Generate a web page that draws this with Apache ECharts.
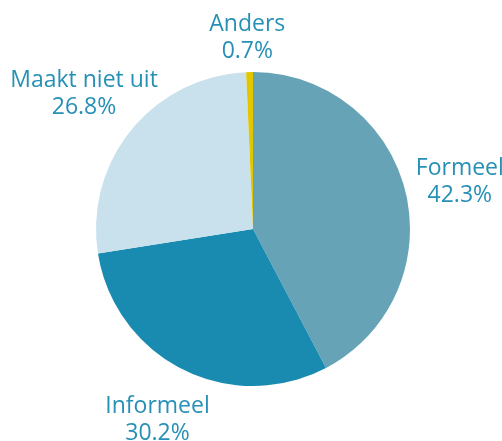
<!DOCTYPE html>
<html><head><meta charset="utf-8">
<script src="https://cdn.jsdelivr.net/npm/echarts@6/dist/echarts.min.js"></script>
<style>html,body{margin:0;padding:0;background:#fff}#c{width:502px;height:441px}</style>
</head><body><div id="c"></div>
<script>
const categories = ['Formeel', 'Informeel', 'Maakt niet uit', 'Anders'];
const values = [42.3, 30.2, 26.8, 0.7];
const colors = ['#67a3b6', '#1a8bb0', '#c9e1ec', '#e2c700'];
const labelOffsets = [[0, 4], [0, 1], [-4, 0], [-1, 22]];

const chart = echarts.init(document.getElementById('c'), null, {renderer: 'canvas'});
const mainData = categories.map((n, i) => ({name: n, value: values[i], itemStyle: {color: colors[i]}}));
const labelData = categories.map((n, i) => ({name: n, value: values[i], label: {offset: labelOffsets[i]}}));
chart.setOption({
  animation: false,
  series: [
    {
      type: 'pie', center: [253, 229], radius: [0, 157], startAngle: 90, clockwise: true,
      label: {show: false}, labelLine: {show: false}, silent: true,
      itemStyle: {borderWidth: 0},
      data: mainData
    },
    {
      type: 'pie', center: [253, 229], radius: [200, 220], startAngle: 90, clockwise: true,
      silent: true, itemStyle: {color: 'rgba(0,0,0,0)'},
      labelLine: {show: false},
      label: {
        show: true, position: 'inside', rotate: 0,
        formatter: p => p.name + '\n' + p.value.toFixed(1) + '%',
        color: '#2790b5', fontFamily: 'Open Sans', fontSize: 23, lineHeight: 27, align: 'center'
      },
      data: labelData
    }
  ]
});
</script></body></html>
